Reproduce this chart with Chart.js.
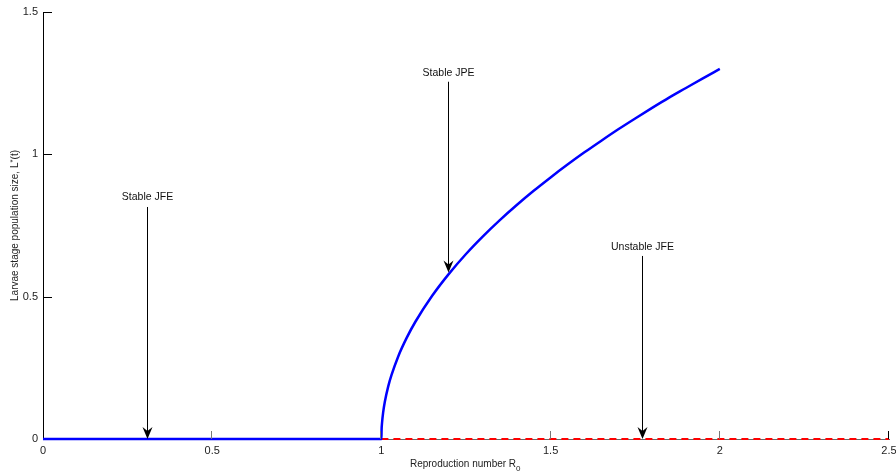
<!DOCTYPE html>
<html>
<head>
<meta charset="utf-8">
<script src="https://cdn.jsdelivr.net/npm/chart.js@4.4.1/dist/chart.umd.min.js"></script>
<style>
  body { margin: 0; background: #fff; }
  #wrap { width: 896px; height: 474px; }
</style>
</head>
<body>
<div id="wrap"><canvas id="myChart" width="896" height="474"></canvas></div>
<script>
// stable branch: trivial equilibrium up to R0 = 1, then the positive equilibrium
const stableR0 = [0, 1, 1.0005, 1.002, 1.005, 1.01, 1.02, 1.03, 1.05, 1.075, 1.1, 1.15, 1.2, 1.25, 1.3, 1.35, 1.4, 1.45, 1.5, 1.55, 1.6, 1.65, 1.7, 1.75, 1.8, 1.85, 1.9, 1.95, 2.0];
const stableL  = [0, 0, 0.03, 0.058, 0.092, 0.13, 0.184, 0.225, 0.291, 0.356, 0.411, 0.503, 0.581, 0.650, 0.712, 0.769, 0.822, 0.872, 0.919, 0.964, 1.007, 1.048, 1.088, 1.126, 1.163, 1.199, 1.233, 1.267, 1.30];

// unstable trivial equilibrium for R0 > 1
const unstableR0 = [1, 2.5];
const unstableL  = [0, 0];

const xTicks = [0, 0.5, 1, 1.5, 2, 2.5];
const yTicks = [0, 0.5, 1, 1.5];

// annotations: label, x position, label y, arrow start y, arrow tip y
const annLabels = ["Stable JFE", "Stable JPE", "Unstable JFE"];
const annX      = [0.307, 1.197, 1.770];
const annTextY  = [0.848, 1.285, 0.673];
const annTailY  = [0.815, 1.255, 0.643];
const annTipY   = [0.0, 0.585, 0.0];

const FONT = '"Liberation Sans", Arial, sans-serif';

function toPts(xs, ys) {
  return xs.map((x, i) => ({ x: x, y: ys[i] }));
}

const decor = {
  id: "decor",
  afterDatasetsDraw(chart) {
    const ctx = chart.ctx;
    const xs = chart.scales.x, ys = chart.scales.y;
    const a = chart.chartArea;
    ctx.save();

    // inward tick marks
    ctx.strokeStyle = "#000";
    ctx.lineWidth = 1;
    yTicks.forEach(v => {
      if (v === 0) return;
      const py = Math.round(ys.getPixelForValue(v)) + 0.5;
      ctx.beginPath();
      ctx.moveTo(a.left, py);
      ctx.lineTo(a.left + 9, py);
      ctx.stroke();
    });
    xTicks.forEach(v => {
      if (v === 0) return;
      const px = Math.round(xs.getPixelForValue(v)) - 0.5;
      ctx.strokeStyle = v === 2.5 ? "#000" : "#777";
      ctx.beginPath();
      ctx.moveTo(px, a.bottom);
      ctx.lineTo(px, a.bottom - 8);
      ctx.stroke();
    });

    // arrows + labels
    for (let i = 0; i < annLabels.length; i++) {
      const px = Math.round(xs.getPixelForValue(annX[i])) + 0.5;
      const tail = ys.getPixelForValue(annTailY[i]);
      const tip = ys.getPixelForValue(annTipY[i]);
      ctx.strokeStyle = "#000";
      ctx.fillStyle = "#000";
      ctx.lineWidth = 1;
      ctx.beginPath();
      ctx.moveTo(px, tail);
      ctx.lineTo(px, tip - 7);
      ctx.stroke();
      ctx.beginPath();
      ctx.moveTo(px, tip);
      ctx.lineTo(px - 5, tip - 12);
      ctx.lineTo(px, tip - 8);
      ctx.lineTo(px + 5, tip - 12);
      ctx.closePath();
      ctx.fill();

      ctx.font = "10.5px " + FONT;
      ctx.textAlign = "center";
      ctx.textBaseline = "middle";
      ctx.fillStyle = "#111";
      ctx.fillText(annLabels[i], px, ys.getPixelForValue(annTextY[i]));
    }

    // x axis title with subscript
    ctx.fillStyle = "#222";
    ctx.font = "10px " + FONT;
    ctx.textBaseline = "alphabetic";
    ctx.textAlign = "left";
    const main = "Reproduction number R";
    const w = ctx.measureText(main).width;
    const cx = (a.left + a.right) / 2;
    const sx = cx - (w + 6) / 2;
    ctx.fillText(main, sx, 467);
    ctx.font = "8px " + FONT;
    ctx.fillText("0", sx + w, 471);

    // y axis title with superscript
    ctx.translate(18, (a.top + a.bottom) / 2);
    ctx.rotate(-Math.PI / 2);
    ctx.font = "10px " + FONT;
    const p1 = "Larvae stage population size, L";
    const p2 = "*";
    const p3 = "(t)";
    const w1 = ctx.measureText(p1).width;
    ctx.font = "8px " + FONT;
    const w2 = ctx.measureText(p2).width;
    ctx.font = "10px " + FONT;
    const w3 = ctx.measureText(p3).width;
    let tx = -(w1 + w2 + w3) / 2;
    ctx.fillText(p1, tx, 0);
    tx += w1;
    ctx.font = "8px " + FONT;
    ctx.fillText(p2, tx, -3);
    tx += w2;
    ctx.font = "10px " + FONT;
    ctx.fillText(p3, tx, 0);

    ctx.restore();
  }
};

const config = {
  type: "line",
  data: {
    datasets: [
      {
        label: "Unstable",
        data: toPts(unstableR0, unstableL),
        borderColor: "#ff0000",
        borderWidth: 2,
        borderDash: [7, 5],
        pointRadius: 0,
        clip: false,
        order: 1
      },
      {
        label: "Stable",
        data: toPts(stableR0, stableL),
        borderColor: "#0000ff",
        borderWidth: 2.5,
        pointRadius: 0,
        cubicInterpolationMode: "monotone",
        clip: false,
        order: 0
      }
    ]
  },
  options: {
    responsive: false,
    animation: false,
    events: [],
    layout: { autoPadding: false, padding: { left: 0, top: 12, right: 7, bottom: 0 } },
    plugins: { legend: { display: false }, tooltip: { enabled: false } },
    scales: {
      x: {
        type: "linear",
        min: 0,
        max: 2.5,
        afterFit: s => { s.height = 35; s.paddingLeft = 0; s.paddingRight = 0; },
        afterBuildTicks: s => { s.ticks = xTicks.map(v => ({ value: v })); },
        grid: { display: false, drawTicks: false },
        border: { display: true, color: "#666", width: 1 },
        ticks: { padding: 5, color: "#222", font: { family: FONT, size: 11 }, maxRotation: 0, callback: v => String(v) }
      },
      y: {
        type: "linear",
        min: 0,
        max: 1.5,
        afterFit: s => { s.width = 43; s.paddingTop = 0; s.paddingBottom = 0; },
        afterBuildTicks: s => { s.ticks = yTicks.map(v => ({ value: v })); },
        grid: { display: false, drawTicks: false },
        border: { display: true, color: "#000", width: 1 },
        ticks: { padding: 5, color: "#222", font: { family: FONT, size: 11 }, callback: v => String(v) }
      }
    }
  },
  plugins: [decor]
};

new Chart(document.getElementById("myChart"), config);
</script>
</body>
</html>
